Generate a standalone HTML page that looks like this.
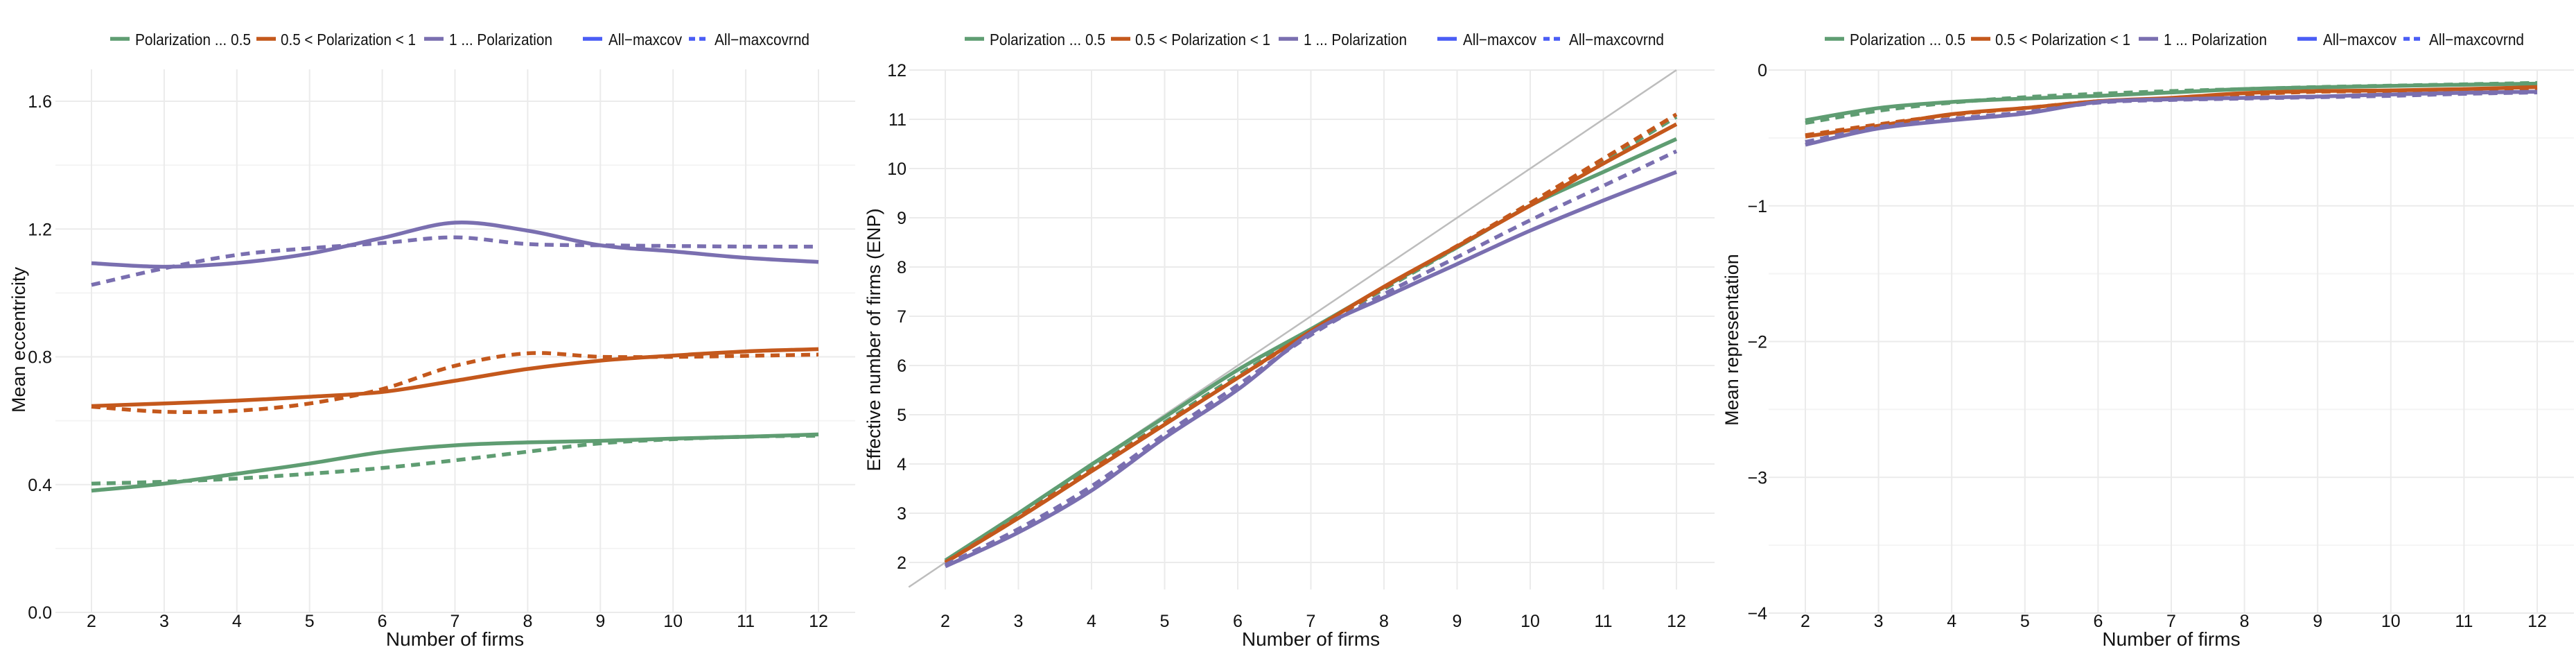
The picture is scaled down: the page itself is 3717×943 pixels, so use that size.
<!DOCTYPE html>
<html><head><meta charset="utf-8">
<style>
html,body{margin:0;padding:0;background:#fff;}
svg{display:block;font-family:"Liberation Sans",sans-serif;}
</style></head>
<body>
<svg id="chart" width="3717" height="943" viewBox="0 0 3717 943" xmlns="http://www.w3.org/2000/svg"></svg>
<script>
const xCategories = [2,3,4,5,6,7,8,9,10,11,12];
// Panel 1: Mean eccentricity
const eccGreenSolid  = [0.381,0.403,0.434,0.466,0.502,0.523,0.532,0.537,0.544,0.550,0.557];
const eccGreenDash   = [0.403,0.409,0.419,0.434,0.452,0.476,0.503,0.529,0.542,0.550,0.553];
const eccOrangeSolid = [0.646,0.654,0.663,0.675,0.690,0.725,0.762,0.788,0.804,0.817,0.824];
const eccOrangeDash  = [0.644,0.628,0.631,0.654,0.699,0.772,0.811,0.800,0.800,0.803,0.807];
const eccPurpleSolid = [1.093,1.082,1.094,1.123,1.172,1.220,1.195,1.149,1.130,1.110,1.097];
const eccPurpleDash  = [1.025,1.077,1.119,1.140,1.156,1.174,1.153,1.149,1.147,1.145,1.145];
// Panel 2: ENP
const enpGreenSolid  = [2.04,3.00,3.99,4.95,5.91,6.74,7.59,8.40,9.25,9.93,10.60];
const enpGreenDash   = [2.00,2.95,3.90,4.85,5.80,6.70,7.55,8.40,9.30,10.15,11.05];
const enpOrangeSolid = [2.00,2.90,3.85,4.80,5.75,6.70,7.60,8.42,9.25,10.10,10.90];
const enpOrangeDash  = [2.00,2.92,3.88,4.82,5.75,6.68,7.58,8.43,9.30,10.20,11.10];
const enpPurpleSolid = [1.92,2.61,3.46,4.53,5.51,6.66,7.38,8.06,8.74,9.35,9.93];
const enpPurpleDash  = [1.95,2.68,3.55,4.60,5.60,6.62,7.45,8.20,8.95,9.65,10.35];
// Panel 3: Mean representation
const repGreenSolid  = [-0.37,-0.28,-0.235,-0.21,-0.19,-0.165,-0.14,-0.127,-0.117,-0.108,-0.10];
const repGreenDash   = [-0.39,-0.30,-0.24,-0.20,-0.175,-0.155,-0.14,-0.125,-0.115,-0.105,-0.095];
const repOrangeSolid = [-0.49,-0.41,-0.325,-0.28,-0.23,-0.205,-0.17,-0.155,-0.15,-0.14,-0.125];
const repOrangeDash  = [-0.48,-0.40,-0.33,-0.28,-0.23,-0.21,-0.18,-0.16,-0.155,-0.145,-0.135];
const repPurpleSolid = [-0.55,-0.43,-0.37,-0.32,-0.235,-0.215,-0.205,-0.195,-0.18,-0.167,-0.16];
const repPurpleDash  = [-0.53,-0.42,-0.36,-0.31,-0.24,-0.22,-0.21,-0.20,-0.19,-0.175,-0.165];
const eccTicks = [0.0,0.4,0.8,1.2,1.6];
const eccTickLabels = ["0.0","0.4","0.8","1.2","1.6"];
const enpTicks = [2,3,4,5,6,7,8,9,10,11,12];
const repTicks = [0,-1,-2,-3,-4];
const repTickLabels = ["0","\u22121","\u22122","\u22123","\u22124"];
const legendLabels = ["Polarization ... 0.5","0.5 < Polarization < 1","1 ... Polarization","All\u2212maxcov","All\u2212maxcovrnd"];

const GREEN="#5f9d72", ORANGE="#c4581c", PURPLE="#7a6fb0", BLUE="#4a5df5";
const NS="http://www.w3.org/2000/svg";
const svg=document.getElementById('chart');
function el(tag,attrs,parent){const e=document.createElementNS(NS,tag);for(const k in attrs)e.setAttribute(k,attrs[k]);(parent||svg).appendChild(e);return e;}

function smoothPath(pts){
  let d="M"+pts[0][0]+","+pts[0][1];
  for(let i=0;i<pts.length-1;i++){
    const p0=pts[i-1]||pts[i],p1=pts[i],p2=pts[i+1],p3=pts[i+2]||p2;
    const c1=[p1[0]+(p2[0]-p0[0])/6,p1[1]+(p2[1]-p0[1])/6];
    const c2=[p2[0]-(p3[0]-p1[0])/6,p2[1]-(p3[1]-p1[1])/6];
    d+=" C"+c1[0].toFixed(1)+","+c1[1].toFixed(1)+" "+c2[0].toFixed(1)+","+c2[1].toFixed(1)+" "+p2[0].toFixed(1)+","+p2[1].toFixed(1);
  }
  return d;
}

function panel(cfg){
  const g=el('g',{});
  
  
  const xs=v=>cfg.x2+(v-2)*(cfg.x12-cfg.x2)/10;
  const ys=v=>cfg.yA+(v-cfg.vA)*(cfg.yB-cfg.yA)/(cfg.vB-cfg.vA);
  (cfg.minor||[]).forEach(v=>{
    const l=el('line',{x1:cfg.left,x2:cfg.right,y1:ys(v),y2:ys(v),stroke:"#f4f4f4","stroke-width":2},g);
    
    
  });
  cfg.yTicks.forEach((v,i)=>{
    const l=el('line',{x1:cfg.left,x2:cfg.right,y1:ys(v),y2:ys(v),stroke:"#ebebeb","stroke-width":2},g);
    
    
    const t=el('text',{x:cfg.labelX,y:ys(v)+9,"text-anchor":"end","font-size":25,fill:"#111"},g);
    t.textContent=cfg.yLabels[i];
    
    
  });
  xCategories.forEach(v=>{
    const l=el('line',{x1:xs(v),x2:xs(v),y1:cfg.top,y2:cfg.bottom,stroke:"#ebebeb","stroke-width":2},g);
    
    
    const t=el('text',{x:xs(v),y:904,"text-anchor":"middle","font-size":25,fill:"#111"},g);
    t.textContent=String(v);
    
    
  });
  if(cfg.diag){
    const l=el('line',{x1:xs(1.5),y1:ys(1.5),x2:xs(12),y2:ys(12),stroke:"#bdbdbd","stroke-width":2.5},g);
    
    
  }
  cfg.series.forEach(s=>{
    const pts=xCategories.map((x,i)=>[xs(x),ys(s.data[i])]);
    const p=el('path',{d:smoothPath(pts),fill:"none",stroke:s.color,"stroke-width":5.5,"stroke-linecap":"butt"},g);
    if(s.dash)p.setAttribute('stroke-dasharray','13 9');
    
    
  });
  const xt=el('text',{x:(cfg.x2+cfg.x12)/2,y:931,"text-anchor":"middle","font-size":28,fill:"#111"},g);
  xt.textContent="Number of firms";
  
  
  const yt=el('text',{transform:"translate("+cfg.titleX+","+cfg.titleY+") rotate(-90)","text-anchor":"middle","font-size":27,fill:"#111"},g);
  yt.textContent=cfg.yTitle;
  
  
  const lg=el('g',{},g);
  
  
  const keyX=[159,370,612,841,994], txtX=[195,405,648,878,1031];
  const txtW=[167,195,149,106,137];
  const colors=[GREEN,ORANGE,PURPLE,BLUE,BLUE];
  legendLabels.forEach((lab,i)=>{
    const k=el('line',{x1:cfg.lg+keyX[i],x2:cfg.lg+keyX[i]+28,y1:56,y2:56,stroke:colors[i],"stroke-width":5.5},lg);
    if(i===4)k.setAttribute('stroke-dasharray','9 6');
    
    
    const t=el('text',{x:cfg.lg+txtX[i],y:65,"font-size":23,fill:"#111",textLength:txtW[i],lengthAdjust:"spacingAndGlyphs"},lg);
    t.textContent=lab;
    
    
  });
}

panel({name:'eccentricity-panel',x2:132,x12:1181,left:80,right:1234,top:100,bottom:883,
  yA:883,vA:0,yB:146,vB:1.6,yTicks:eccTicks,yLabels:eccTickLabels,minor:[0.2,0.6,1.0,1.4],
  labelX:75,titleX:36,titleY:490,yTitle:"Mean eccentricity",lg:0,
  series:[{name:'green-solid',data:eccGreenSolid,color:GREEN},{name:'green-dashed',data:eccGreenDash,color:GREEN,dash:1},
    {name:'orange-solid',data:eccOrangeSolid,color:ORANGE},{name:'orange-dashed',data:eccOrangeDash,color:ORANGE,dash:1},
    {name:'purple-solid',data:eccPurpleSolid,color:PURPLE},{name:'purple-dashed',data:eccPurpleDash,color:PURPLE,dash:1}]});
panel({name:'enp-panel',x2:1364,x12:2419,left:1312,right:2474,top:101,bottom:850,
  yA:811,vA:2,yB:101,vB:12,yTicks:enpTicks,yLabels:enpTicks.map(String),minor:[],diag:true,
  labelX:1308,titleX:1270,titleY:490,yTitle:"Effective number of firms (ENP)",lg:1233,
  series:[{name:'green-solid',data:enpGreenSolid,color:GREEN},{name:'green-dashed',data:enpGreenDash,color:GREEN,dash:1},
    {name:'orange-solid',data:enpOrangeSolid,color:ORANGE},{name:'orange-dashed',data:enpOrangeDash,color:ORANGE,dash:1},
    {name:'purple-solid',data:enpPurpleSolid,color:PURPLE},{name:'purple-dashed',data:enpPurpleDash,color:PURPLE,dash:1}]});
panel({name:'representation-panel',x2:2605,x12:3661,left:2552,right:3714,top:101,bottom:884,
  yA:101,vA:0,yB:884,vB:-4,yTicks:repTicks,yLabels:repTickLabels,minor:[-0.5,-1.5,-2.5,-3.5],
  labelX:2550,titleX:2508,titleY:490,yTitle:"Mean representation",lg:2474,
  series:[{name:'green-solid',data:repGreenSolid,color:GREEN},{name:'green-dashed',data:repGreenDash,color:GREEN,dash:1},
    {name:'orange-solid',data:repOrangeSolid,color:ORANGE},{name:'orange-dashed',data:repOrangeDash,color:ORANGE,dash:1},
    {name:'purple-solid',data:repPurpleSolid,color:PURPLE},{name:'purple-dashed',data:repPurpleDash,color:PURPLE,dash:1}]});
</script>
</body></html>
